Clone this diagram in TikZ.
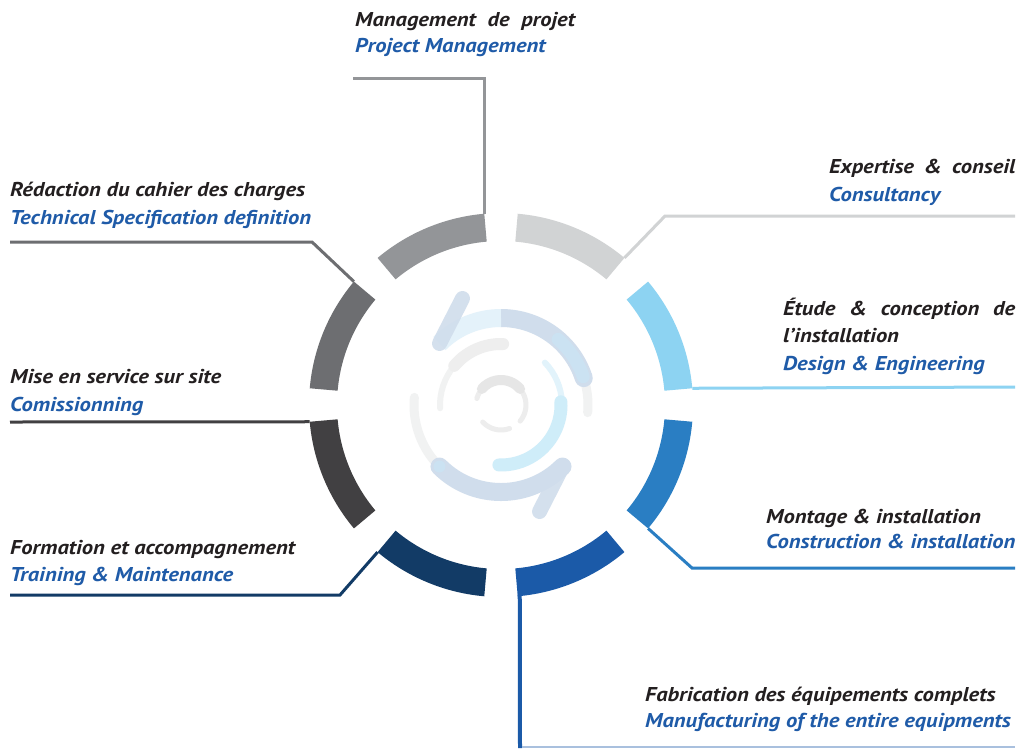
\documentclass[tikz,border=0pt]{standalone}
\usepackage{fontspec}
\usetikzlibrary{calc}
\setmainfont{PT Sans}[FakeStretch=1.13]
\definecolor{sgA}{HTML}{939598}
\definecolor{sgB}{HTML}{6D6E71}
\definecolor{sgC}{HTML}{414042}
\definecolor{sgD}{HTML}{123B66}
\definecolor{sgE}{HTML}{1B5AA8}
\definecolor{sgF}{HTML}{2A7EC3}
\definecolor{sgG}{HTML}{8DD3F2}
\definecolor{sgH}{HTML}{D1D3D4}
\definecolor{txtblack}{HTML}{231F20}
\definecolor{txtblue}{HTML}{1F5BA8}
\definecolor{icSteel}{HTML}{D0DDEC}
\definecolor{icSky}{HTML}{E4F2FA}
\definecolor{icSky2}{HTML}{CBE2F2}
\definecolor{icGray}{HTML}{F1F2F2}
\definecolor{icGrayB}{HTML}{EEEEEE}
\definecolor{icBlueB}{HTML}{CFEDF9}
\definecolor{icBlueT}{HTML}{E2F3FB}
\definecolor{icGrayC}{HTML}{E6E6E6}
\definecolor{icGrayT}{HTML}{EDEDED}
\definecolor{mfLine}{HTML}{A9C0DE}
\begin{document}
\begin{tikzpicture}[x=1pt,y=-1pt,
  lbl/.style={inner sep=0pt, font=\fontsize{20}{24}\selectfont\bfseries\itshape},
  fr/.style={lbl, text=txtblack},
  en/.style={lbl, text=txtblue},
  conn/.style={line width=3pt},
  icon/.style={line cap=round},
]
\useasboundingbox (0,0) rectangle (1022,748);
\fill[white] (0,0) rectangle (1022,748);
\coordinate (c) at (501,405);

% ring segments
\begin{scope}[shift={(c)}]
\foreach \k/\col in {0/sgG,1/sgH,2/sgA,3/sgB,4/sgC,5/sgD,6/sgE,7/sgF}{
  \pgfmathsetmacro\aA{-(45*\k+5)}
  \pgfmathsetmacro\aB{-(45*\k+40)}
  \fill[\col] (\aA:192) arc[start angle=\aA, end angle=\aB, radius=192]
     -- (\aB:164) arc[start angle=\aB, end angle=\aA, radius=164] -- cycle;
}
% segment end coordinates (outer edge)
\coordinate (s1) at (-95:192);
\coordinate (s2) at (-140:192);
\coordinate (s3) at (-185:192);
\coordinate (s4) at (-230:192);
\coordinate (s5) at (-275:192);
\coordinate (s6) at (-320:192);
\coordinate (s7) at (-5:192);
\coordinate (s8) at (-50:192);

% ---- central icon ----
% ring A
\draw[icon, icGray, line width=9pt] (-175:87) arc[start angle=-175, end angle=-225, radius=87];
\draw[icon, icGray, line width=9pt] (5:87) arc[start angle=5, end angle=-20, radius=87];
\draw[icSteel, line width=18pt] (-90:87) arc[start angle=-90, end angle=-18, radius=87];
\fill[icSteel] (-18:87) circle (9);
\draw[icSky, line width=18pt] (-135:87) arc[start angle=-135, end angle=-90, radius=87];
\draw[icon, icSky2, line width=13pt] (-49:87) arc[start angle=-49, end angle=-19, radius=87];
\draw[icon, icSteel, line width=15pt, opacity=0.9] (-135:87) coordinate (ar1) -- ++(23,-45);
\draw[icon, icSteel, line width=18pt] (-225:87) arc[start angle=-225, end angle=-315, radius=87];
\fill[icSky2] (-225:87) circle (6);
\draw[icon, icSteel, line width=15pt, opacity=0.9] (-315:87) coordinate (ar2) -- ++(-23,45);
% ring B
\draw[icon, icGray, line width=6pt] (-140:61) arc[start angle=-140, end angle=-183, radius=61];
\draw[icon, icGrayB, line width=12pt] (-88:61) arc[start angle=-88, end angle=-140, radius=61];
\draw[icon, icBlueT, line width=6pt] (-44:61) arc[start angle=-44, end angle=-3, radius=61];
\draw[icon, icBlueB, line width=13pt] (-3:60) arc[start angle=-3, end angle=92, radius=60];
% ring C
\draw[icon, icGrayT, line width=5pt] (-30:25) arc[start angle=-30, end angle=40, radius=25];
\draw[icon, icGrayT, line width=5pt] (-150:25) arc[start angle=-150, end angle=-165, radius=25];
\draw[icon, icGrayT, line width=5pt] (-223:25) arc[start angle=-223, end angle=-290, radius=25];
\draw[icon, icGrayC, line width=10pt] (-40:25) arc[start angle=-40, end angle=-140, radius=25];
\end{scope}

% ---- labels ----
\node[fr, anchor=base west] (pmF) at (355,26) {\makebox[220pt][s]{Management de projet}};
\node[en, anchor=base west] (pmE) at (355,52) {Project Management};

\node[fr, anchor=base west] (tsF) at (10,196) {Rédaction du cahier des charges};
\node[en, anchor=base west] (tsE) at (10,224) {Technical Specification definition};

\node[fr, anchor=base west] (cmF) at (10,383) {Mise en service sur site};
\node[en, anchor=base west] (cmE) at (10,411) {Comissionning};

\node[fr, anchor=base west] (trF) at (10,554) {Formation et accompagnement};
\node[en, anchor=base west] (trE) at (10,581) {Training \& Maintenance};

\node[fr, anchor=base west] (exF) at (829,173) {\makebox[186pt][s]{Expertise \& conseil}};
\node[en, anchor=base west] (exE) at (829,201) {Consultancy};

\node[fr, anchor=base west] (deF) at (783,315) {\makebox[232pt][s]{Étude \& conception de}};
\node[fr, anchor=base west] (deF2) at (783,342) {l\char"0027installation};
\node[en, anchor=base west] (deE) at (783,370) {Design \& Engineering};

\node[fr, anchor=base west] (coF) at (766,523) {Montage \& installation};
\node[en, anchor=base west] (coE) at (766,548) {Construction \& installation};

\node[fr, anchor=base west] (mfF) at (645,701) {Fabrication des équipements complets};
\node[en, anchor=base west] (mfE) at (645,727) {Manufacturing of the entire equipments};

% ---- connectors ----
\coordinate (pmA) at (353,78);
\coordinate (pmB) at (s1|-pmA);
\draw[conn, sgA] (pmA) -- (pmB) -- (s1);

\coordinate (tsA) at (10,242);
\coordinate (tsB) at (312,242);
\draw[conn, sgB] (tsA) -- (tsB) -- (s2);

\coordinate (cmA) at (10,422);
\draw[conn, sgC] (cmA) -- (s3);

\coordinate (trA) at (10,595);
\coordinate (trB) at (340,595);
\draw[conn, sgD] (trA) -- (trB) -- (s4);

\coordinate (mfA) at (520,748);
\draw[line width=4pt, sgE] ($(s5)+(2,-2)$) -- (mfA);
\coordinate (mfB) at (1015,747);
\coordinate (mfC) at (522,747);
\draw[line width=2pt, mfLine] (mfC) -- (mfB);

\coordinate (coA) at (692,568);
\coordinate (coB) at (1015,568);
\draw[conn, sgF] (s6) -- (coA) -- (coB);

\coordinate (deA) at (1015,387);
\draw[conn, sgG] (s7) -- (deA);

\coordinate (exA) at (665,216);
\coordinate (exB) at (1015,216);
\draw[conn, sgH] (s8) -- (exA) -- (exB);
\end{tikzpicture}
\end{document}
